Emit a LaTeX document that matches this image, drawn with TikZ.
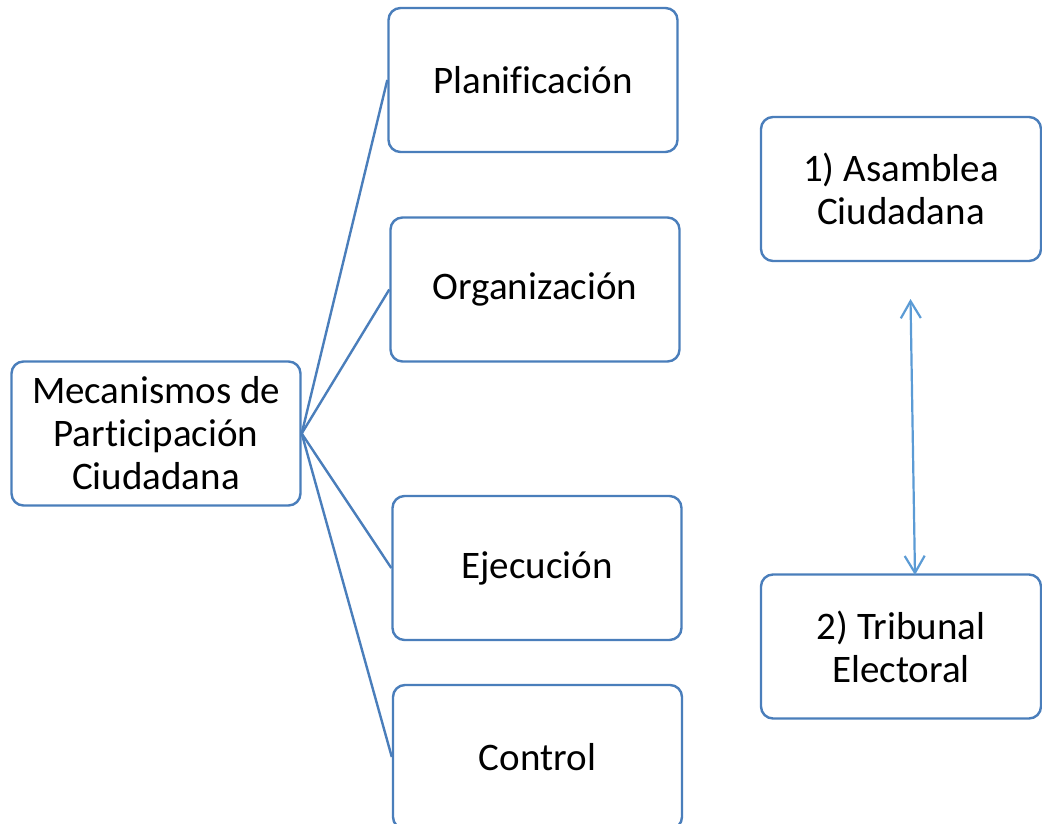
\documentclass[tikz,border=0pt]{standalone}
\usepackage{fontspec}
\setmainfont{Carlito}[Ligatures={NoCommon}]
\usetikzlibrary{arrows.meta}
\definecolor{boxline}{RGB}{74,126,187}
\definecolor{arrowline}{RGB}{91,155,213}
\begin{document}
\begin{tikzpicture}[x=1pt,y=-1pt,
  stepbox/.style={draw=boxline, line width=2.4pt, rounded corners=12pt, fill=white,
    minimum width=289pt, minimum height=144pt, align=center, inner sep=0pt,
    font=\fontsize{39}{43}\selectfont},
  link/.style={draw=boxline, line width=2.4pt},
  dbl/.style={draw=arrowline, line width=2.2pt,
    {Straight Barb[length=17pt,width=20pt,line width=2.2pt]}-{Straight Barb[length=17pt,width=20pt,line width=2.2pt]}}]
\useasboundingbox (0,0) rectangle (1042,824);
\fill[white] (0,0) rectangle (1042,824);
\node[stepbox] (mec) at (156,433.5) {Mecanismos de\\Participación\\Ciudadana};
\node[stepbox] (pla) at (533,80) {Planificación};
\node[stepbox] (org) at (535,289.5) {Organización};
\node[stepbox] (eje) at (537,568) {Ejecución};
\node[stepbox] (con) at (537.5,757) {Control};
\node[stepbox, minimum width=280pt] (asa) at (901,189) {1) Asamblea\\Ciudadana};
\node[stepbox, minimum width=280pt] (tri) at (901,646.5) {2) Tribunal\\Electoral};
\draw[link] (mec.east) -- (pla.west);
\draw[link] (mec.east) -- (org.west);
\draw[link] (mec.east) -- (eje.west);
\draw[link] (mec.east) -- (con.west);
\coordinate (atop) at (910.5,299);
\coordinate (abot) at (915,575);
\draw[dbl] (atop) -- (abot);
\end{tikzpicture}
\end{document}
